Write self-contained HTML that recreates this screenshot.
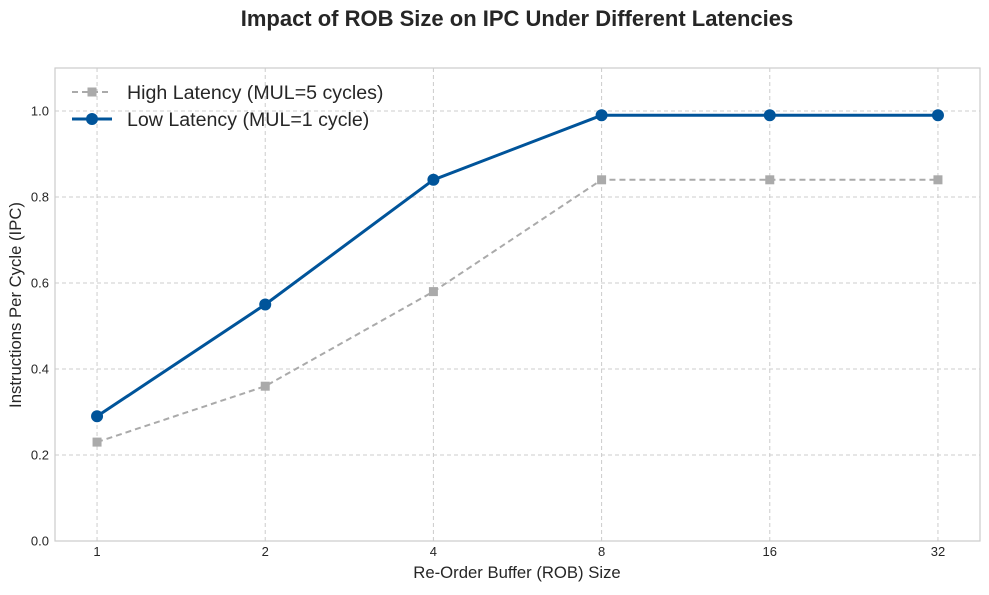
<!DOCTYPE html>
<html><head><meta charset="utf-8"><style>
body{margin:0;background:#fff;font-family:"Liberation Sans",sans-serif;}
svg text{font-family:"Liberation Sans",sans-serif;}
</style></head><body>
<svg id="chart" width="989" height="590" xmlns="http://www.w3.org/2000/svg"></svg>
<script>
const categories = ["1","2","4","8","16","32"];
const highLatency = [0.23,0.36,0.58,0.84,0.84,0.84];
const lowLatency = [0.29,0.55,0.84,0.99,0.99,0.99];
const yTicks = [0.0,0.2,0.4,0.6,0.8,1.0];

const svg=document.getElementById('chart');
const NS="http://www.w3.org/2000/svg";
const L=55,R=980,T=68,B=541;
const xMin=-0.25,xMax=categories.length-0.75,yMin=0,yMax=1.1;
function xs(i){return L+(i-xMin)/(xMax-xMin)*(R-L);}
function ys(v){return B-(v-yMin)/(yMax-yMin)*(B-T);}
function mk(tag,attrs,parent){const e=document.createElementNS(NS,tag);for(const k in attrs)e.setAttribute(k,attrs[k]);(parent||svg).appendChild(e);return e;}

const title=mk('text',{x:517,y:26,'text-anchor':'middle','font-size':22,'font-weight':'bold',fill:'#262626'});
title.textContent='Impact of ROB Size on IPC Under Different Latencies';



const grid=mk('g',{});


categories.forEach((c,i)=>{
  mk('line',{x1:xs(i),x2:xs(i),y1:T,y2:B,stroke:'#cccccc','stroke-dasharray':'4,3'},grid);
  const t=mk('text',{x:xs(i),y:556,'text-anchor':'middle','font-size':13,fill:'#262626'});
  t.textContent=c;
  
  
});
yTicks.forEach(v=>{
  mk('line',{x1:L,x2:R,y1:ys(v),y2:ys(v),stroke:'#cccccc','stroke-dasharray':'4,3'},grid);
  const t=mk('text',{x:49,y:ys(v)+4.5,'text-anchor':'end','font-size':13,fill:'#262626'});
  t.textContent=v.toFixed(1);
  
  
});
const frame=mk('rect',{x:L,y:T,width:R-L,height:B-T,fill:'none',stroke:'#cccccc','stroke-width':1.2});



const xl=mk('text',{x:517,y:578,'text-anchor':'middle','font-size':16.7,fill:'#262626'});
xl.textContent='Re-Order Buffer (ROB) Size';


const yl=mk('text',{x:21,y:305,'text-anchor':'middle','font-size':16.7,fill:'#262626',transform:'rotate(-90 21 305)'});
yl.textContent='Instructions Per Cycle (IPC)';



const hl=mk('polyline',{points:highLatency.map((v,i)=>xs(i)+','+ys(v)).join(' '),fill:'none',stroke:'#aaaaaa','stroke-width':2,'stroke-dasharray':'6,4'});


highLatency.forEach((v,i)=>{
  const m=mk('rect',{x:xs(i)-4.5,y:ys(v)-4.5,width:9,height:9,fill:'#aaaaaa'});
  
  
});
const ll=mk('polyline',{points:lowLatency.map((v,i)=>xs(i)+','+ys(v)).join(' '),fill:'none',stroke:'#00549a','stroke-width':3});


lowLatency.forEach((v,i)=>{
  const m=mk('circle',{cx:xs(i),cy:ys(v),r:6,fill:'#00549a'});
  
  
});

const lg=mk('g',{});


mk('line',{x1:72,x2:112,y1:92,y2:92,stroke:'#aaaaaa','stroke-width':2,'stroke-dasharray':'6,4'},lg);
mk('rect',{x:87.5,y:87.5,width:9,height:9,fill:'#aaaaaa'},lg);
const t1=mk('text',{x:127,y:99,'font-size':19.6,fill:'#262626'},lg);
t1.textContent='High Latency (MUL=5 cycles)';


mk('line',{x1:72,x2:112,y1:119,y2:119,stroke:'#00549a','stroke-width':3},lg);
mk('circle',{cx:92,cy:119,r:6,fill:'#00549a'},lg);
const t2=mk('text',{x:127,y:126,'font-size':19.6,fill:'#262626'},lg);
t2.textContent='Low Latency (MUL=1 cycle)';


</script>
</body></html>
